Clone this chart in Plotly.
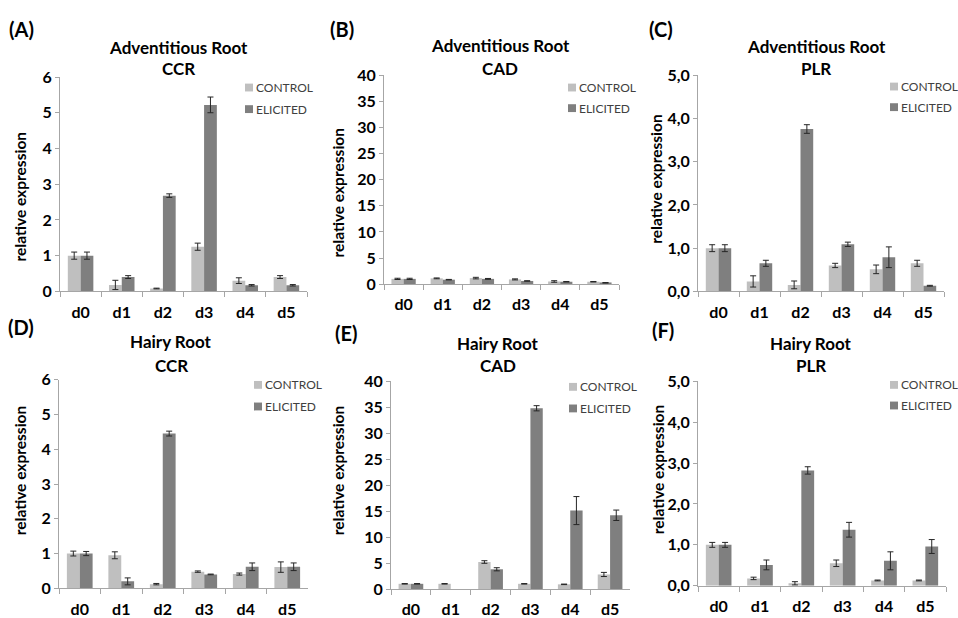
import plotly.graph_objects as go

W, H = 958, 618
V_FIT = 0.986  # rendered page height / layout height

# ---- data -------------------------------------------------------------
days = ["d0", "d1", "d2", "d3", "d4", "d5"]

# Adventitious root - CCR
ar_ccr_control = [1.00, 0.18, 0.08, 1.25, 0.30, 0.40]
ar_ccr_control_err = [0.10, 0.13, 0.01, 0.10, 0.08, 0.04]
ar_ccr_elicited = [1.00, 0.40, 2.68, 5.22, 0.17, 0.17]
ar_ccr_elicited_err = [0.10, 0.04, 0.05, 0.22, 0.02, 0.02]

# Adventitious root - CAD
ar_cad_control = [1.00, 1.10, 1.15, 0.90, 0.50, 0.45]
ar_cad_control_err = [0.12, 0.08, 0.15, 0.10, 0.15, 0.05]
ar_cad_elicited = [1.00, 0.85, 1.00, 0.60, 0.45, 0.25]
ar_cad_elicited_err = [0.12, 0.05, 0.08, 0.05, 0.05, 0.05]

# Adventitious root - PLR
ar_plr_control = [1.00, 0.23, 0.15, 0.60, 0.51, 0.65]
ar_plr_control_err = [0.08, 0.13, 0.09, 0.05, 0.10, 0.07]
ar_plr_elicited = [1.00, 0.65, 3.76, 1.09, 0.79, 0.13]
ar_plr_elicited_err = [0.08, 0.07, 0.10, 0.05, 0.24, 0.01]

# Hairy root - CCR
hr_ccr_control = [1.00, 0.95, 0.12, 0.48, 0.41, 0.61]
hr_ccr_control_err = [0.07, 0.10, 0.02, 0.02, 0.03, 0.15]
hr_ccr_elicited = [1.00, 0.20, 4.45, 0.40, 0.62, 0.62]
hr_ccr_elicited_err = [0.06, 0.10, 0.07, 0.01, 0.11, 0.11]

# Hairy root - CAD (no elicited bar on d1)
hr_cad_control = [1.00, 1.00, 5.20, 1.00, 0.90, 2.80]
hr_cad_control_err = [0.05, 0.05, 0.25, 0.05, 0.05, 0.40]
hr_cad_elicited = [1.00, None, 3.80, 34.80, 15.10, 14.20]
hr_cad_elicited_err = [0.05, None, 0.30, 0.50, 2.70, 1.00]

# Hairy root - PLR
hr_plr_control = [1.00, 0.18, 0.06, 0.55, 0.13, 0.13]
hr_plr_control_err = [0.06, 0.03, 0.04, 0.08, 0.01, 0.01]
hr_plr_elicited = [1.00, 0.51, 2.82, 1.37, 0.61, 0.96]
hr_plr_elicited_err = [0.06, 0.12, 0.09, 0.18, 0.22, 0.17]

# y-axis ticks
ccr_ticks = [0, 1, 2, 3, 4, 5, 6]
ccr_ticklabels = ["0", "1", "2", "3", "4", "5", "6"]
cad_ticks = [0, 5, 10, 15, 20, 25, 30, 35, 40]
cad_ticklabels = ["0", "5", "10", "15", "20", "25", "30", "35", "40"]
plr_ticks = [0, 1, 2, 3, 4, 5]
plr_ticklabels = ["0,0", "1,0", "2,0", "3,0", "4,0", "5,0"]

series_names = ["CONTROL", "ELICITED"]
panel_letters = ["(A)", "(B)", "(C)", "(D)", "(E)", "(F)"]
tissues = ["Adventitious Root"] * 3 + ["Hairy Root"] * 3
genes = ["CCR", "CAD", "PLR", "CCR", "CAD", "PLR"]
y_title = "relative expression"

# ---- styling ----------------------------------------------------------
FONT = "Lato"
C_CONTROL = "#BFBFBF"
C_ELICITED = "#7F7F7F"
AXIS_GREY = "#A6A6A6"

values = [
    (ar_ccr_control, ar_ccr_control_err, ar_ccr_elicited, ar_ccr_elicited_err, ccr_ticks, ccr_ticklabels),
    (ar_cad_control, ar_cad_control_err, ar_cad_elicited, ar_cad_elicited_err, cad_ticks, cad_ticklabels),
    (ar_plr_control, ar_plr_control_err, ar_plr_elicited, ar_plr_elicited_err, plr_ticks, plr_ticklabels),
    (hr_ccr_control, hr_ccr_control_err, hr_ccr_elicited, hr_ccr_elicited_err, ccr_ticks, ccr_ticklabels),
    (hr_cad_control, hr_cad_control_err, hr_cad_elicited, hr_cad_elicited_err, cad_ticks, cad_ticklabels),
    (hr_plr_control, hr_plr_control_err, hr_plr_elicited, hr_plr_elicited_err, plr_ticks, plr_ticklabels),
]

# plot areas in page pixels: (left, right, top, bottom)
boxes = [
    (60, 307, 68.3, 286.7),
    (384, 619, 66.7, 279.3),
    (698, 944, 66.7, 286.7),
    (59, 308, 376.7, 589.3),
    (391, 630, 378.3, 590),
    (698, 946, 378.3, 586.7),
]
# (label x, label y), (title x, line1 y, line2 y), (ytitle x, ytitle y), (legend marker x, row1 y, row2 y)
label_pos = [(21, 19), (342, 19), (661, 19), (21, 323), (346, 329), (663, 326)]
title_pos = [(178, 38, 60), (500, 36, 60), (816, 37, 60), (171, 338, 362), (498, 340, 362), (811, 340, 362)]
ytitle_pos = [(20, 190), (338, 186), (656, 172), (20, 469), (338, 469), (658, 468)]
legend_pos = [(249, 79, 101), (572, 79, 100), (894, 78, 99), (258, 382, 404), (573, 384, 406), (894, 382, 403)]


def px_x(x):
    return x / W


def px_y(y):
    return 1 - (y / V_FIT) / H


fig = go.Figure()
annotations = []
shapes = []

for i, (ctrl, ctrl_err, elic, elic_err, ticks, ticklabels) in enumerate(values):
    n = "" if i == 0 else str(i + 1)
    xa, ya = "x" + n, "y" + n
    for name, vals, errs, color in [
        (series_names[0], ctrl, ctrl_err, C_CONTROL),
        (series_names[1], elic, elic_err, C_ELICITED),
    ]:
        fig.add_trace(go.Bar(
            x=days, y=vals, name=name, xaxis=xa, yaxis=ya,
            marker=dict(color=color, line=dict(width=0)),
            error_y=dict(type="data", array=errs, color="#262626", thickness=1, width=3),
            showlegend=False,
        ))

    l, r, t, b = boxes[i]
    fig.layout["xaxis" + n] = dict(
        domain=[px_x(l), px_x(r)], anchor=ya, type="category",
        showline=True, linecolor=AXIS_GREY, linewidth=1,
        ticks="outside", tickson="boundaries", ticklen=5, tickcolor=AXIS_GREY,
        tickfont=dict(family=FONT, size=16, color="#000000", weight="bold"),
        ticklabelstandoff=6, showgrid=False, zeroline=False, fixedrange=True,
    )
    fig.layout["yaxis" + n] = dict(
        domain=[px_y(b), px_y(t)], anchor=xa, range=[0, ticks[-1]],
        tickmode="array", tickvals=ticks, ticktext=ticklabels,
        showline=True, linecolor=AXIS_GREY, linewidth=1,
        ticks="outside", ticklen=4, tickcolor=AXIS_GREY,
        tickfont=dict(family=FONT, size=16, color="#000000", weight="bold"),
        showgrid=False, zeroline=False, fixedrange=True,
    )

    lx, ly = label_pos[i]
    annotations.append(dict(
        text=panel_letters[i], x=px_x(lx), y=px_y(ly), xref="paper", yref="paper",
        showarrow=False, xanchor="center", yanchor="middle",
        font=dict(family=FONT, size=20, color="#000000", weight="bold"),
    ))
    tx, ty1, ty2 = title_pos[i]
    for txt, ty in [(tissues[i], ty1), (genes[i], ty2)]:
        annotations.append(dict(
            text=txt, x=px_x(tx), y=px_y(ty), xref="paper", yref="paper",
            showarrow=False, xanchor="center", yanchor="middle",
            font=dict(family=FONT, size=17, color="#000000", weight="bold"),
        ))
    yx, yy = ytitle_pos[i]
    annotations.append(dict(
        text=y_title, x=px_x(yx), y=px_y(yy), xref="paper", yref="paper",
        showarrow=False, xanchor="center", yanchor="middle", textangle=-90,
        font=dict(family=FONT, size=15.5, color="#000000", weight="bold"),
    ))
    mx, r1, r2 = legend_pos[i]
    for name, color, ry in [(series_names[0], C_CONTROL, r1), (series_names[1], C_ELICITED, r2)]:
        shapes.append(dict(
            type="rect", xref="paper", yref="paper",
            x0=px_x(mx - 4), x1=px_x(mx + 4), y0=px_y(ry + 4), y1=px_y(ry - 4),
            fillcolor=color, line=dict(width=0),
        ))
        annotations.append(dict(
            text=name, x=px_x(mx + 5), y=px_y(ry), xref="paper", yref="paper",
            showarrow=False, xanchor="left", yanchor="middle",
            font=dict(family=FONT, size=12, color="#404040"),
        ))

fig.update_layout(
    width=W, height=H, margin=dict(l=0, r=0, t=0, b=0),
    paper_bgcolor="#FFFFFF", plot_bgcolor="rgba(0,0,0,0)",
    barmode="group", bargap=0.38, bargroupgap=0,
    annotations=annotations, shapes=shapes,
    showlegend=False,
)

fig.write_html("out.html")
